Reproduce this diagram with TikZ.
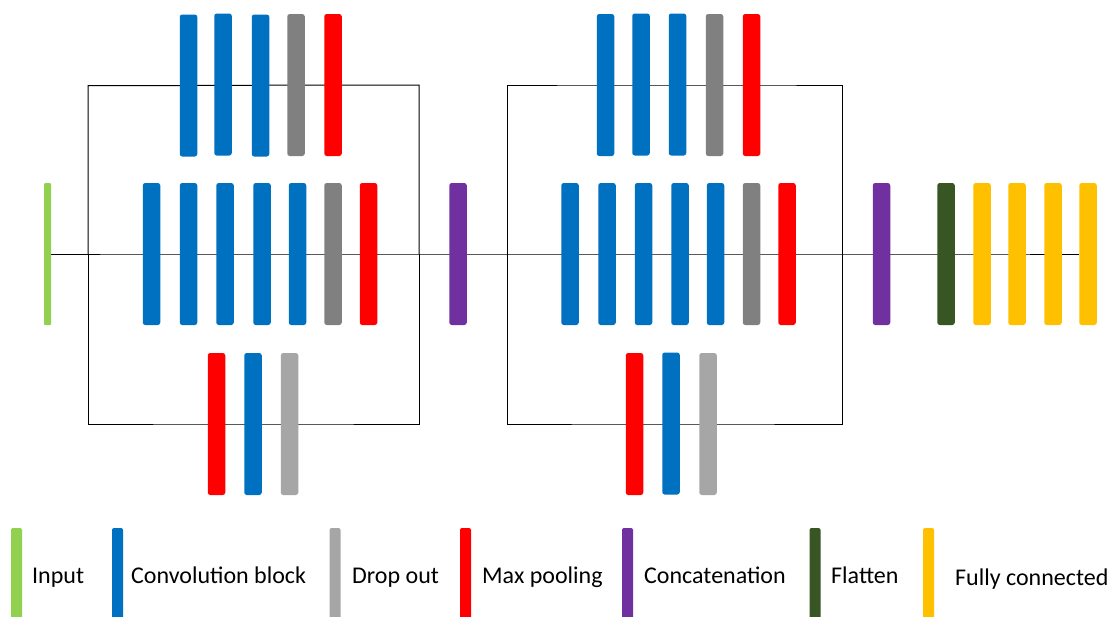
\documentclass[tikz,border=0pt]{standalone}
\usepackage{fontspec}
\setmainfont{Carlito}
\pgfdeclarelayer{background}
\pgfsetlayers{background,main}
\definecolor{cinput}{HTML}{92D050}
\definecolor{cconv}{HTML}{0070C0}
\definecolor{cdrop}{HTML}{A6A6A6}
\definecolor{cdropdk}{HTML}{808080}
\definecolor{cpool}{HTML}{FF0000}
\definecolor{cconcat}{HTML}{7030A0}
\definecolor{cflat}{HTML}{375623}
\definecolor{cfc}{HTML}{FFC000}
\tikzset{
  bar/.style={rectangle, rounded corners=2.5pt, minimum width=17.5pt, minimum height=142pt, inner sep=0pt, draw=none},
  conv/.style={bar, fill=cconv},
  drop/.style={bar, fill=cdrop},
  dropdk/.style={bar, fill=cdropdk},
  pool/.style={bar, fill=cpool},
  concat/.style={bar, fill=cconcat},
  flat/.style={bar, fill=cflat},
  fc/.style={bar, fill=cfc},
  inp/.style={bar, fill=cinput, minimum width=7pt, rounded corners=1pt},
  legbar/.style={rectangle, rounded corners=2pt, minimum width=11pt, minimum height=92pt, inner sep=0pt, draw=none},
  legtext/.style={anchor=base west, inner sep=0pt, font=\fontsize{24}{28}\selectfont},
  wire/.style={draw=black, line width=1pt}
}
\begin{document}
\begin{tikzpicture}[x=1pt,y=-1pt]
\clip (0,0) rectangle (1114,616);
% input
\node[inp] (in) at (47.5,254) {};
% block 1 top
\node[conv] (a1) at (188.5,85.5) {};
\node[conv] (a2) at (223,84.5) {};
\node[conv] (a3) at (260.5,85.5) {};
\node[dropdk] (a4) at (296,85) {};
\node[pool] (a5) at (333,85) {};
% block 1 middle
\node[conv] (b1) at (151.5,254) {};
\node[conv] (b2) at (188.5,254) {};
\node[conv] (b3) at (225,254) {};
\node[conv] (b4) at (262,254) {};
\node[conv] (b5) at (297.5,254) {};
\node[dropdk] (b6) at (333,254) {};
\node[pool] (b7) at (368.5,254) {};
% block 1 bottom
\node[pool] (c1) at (216.5,424) {};
\node[conv] (c2) at (253,424) {};
\node[drop] (c3) at (289.5,424) {};
% concat 1
\node[concat] (k1) at (458,254) {};
% block 2 top
\node[conv] (d1) at (605.5,85) {};
\node[conv] (d2) at (641,84.5) {};
\node[conv] (d3) at (677.5,84.5) {};
\node[dropdk] (d4) at (714.5,85) {};
\node[pool] (d5) at (751.5,85) {};
% block 2 middle
\node[conv] (e1) at (570,254) {};
\node[conv] (e2) at (607,254) {};
\node[conv] (e3) at (643.5,254) {};
\node[conv] (e4) at (680,254) {};
\node[conv] (e5) at (715.5,254) {};
\node[dropdk] (e6) at (751.5,254) {};
\node[pool] (e7) at (787,254) {};
% block 2 bottom
\node[pool] (f1) at (634.5,424) {};
\node[conv] (f2) at (671,423.5) {};
\node[drop] (f3) at (708,424) {};
% concat 2, flatten, fully connected
\node[concat] (k2) at (881.5,254) {};
\node[flat] (fl) at (946,254) {};
\node[fc] (g1) at (982,254) {};
\node[fc] (g2) at (1017,254) {};
\node[fc] (g3) at (1053,254) {};
\node[fc] (g4) at (1088,254) {};
% branch points
\coordinate (s1) at (88,254);
\coordinate (t1) at (419,254);
\coordinate (s2) at (507,254);
\coordinate (t2) at (842,254);
\begin{pgfonlayer}{background}
\fill[white] (0,0) rectangle (1114,616);
\draw[wire] (in.center) -- (b1.center) -- (b7.center) -- (k1.center) -- (e1.center) -- (e7.center) -- (k2.center) -- (fl.center) -- (g1.center) -- (g4.west);
\draw[wire] (s1) |- (a1.center) -- (a5.center) -| (t1);
\draw[wire] (s1) |- (c1.center) -- (c3.center) -| (t1);
\draw[wire] (s2) |- (d1.center) -- (d5.center) -| (t2);
\draw[wire] (s2) |- (f1.center) -- (f3.center) -| (t2);
\end{pgfonlayer}
% legend
\node[legbar, fill=cinput] (l1) at (16.5,574) {};
\node[legtext] (lt1) at (32,583) {Input};
\node[legbar, fill=cconv] (l2) at (117.5,574) {};
\node[legtext] (lt2) at (131,583) {Convolution block};
\node[legbar, fill=cdrop] (l3) at (335,574) {};
\node[legtext] (lt3) at (352,583) {Drop out};
\node[legbar, fill=cpool] (l4) at (465.5,574) {};
\node[legtext] (lt4) at (482,583) {Max pooling};
\node[legbar, fill=cconcat] (l5) at (627.5,574) {};
\node[legtext] (lt5) at (644,583) {Concatenation};
\node[legbar, fill=cflat] (l6) at (815,574) {};
\node[legtext] (lt6) at (831,583) {Flatten};
\node[legbar, fill=cfc] (l7) at (928.5,574) {};
\node[legtext] (lt7) at (955,585) {Fully connected};
\end{tikzpicture}
\end{document}
